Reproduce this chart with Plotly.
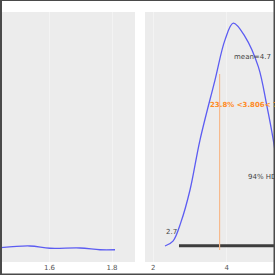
import plotly.graph_objects as go

# Left panel: nearly flat density trace
left_x = [1.44, 1.537, 1.6016, 1.6976, 1.7616, 1.8096]
left_y = [0.057, 0.064, 0.055, 0.056, 0.049, 0.049]

# Right panel: posterior density
right_x = [2.319, 2.537, 2.755, 3.0, 3.272, 3.681, 3.954, 4.180, 4.499, 4.861, 5.090, 5.270, 5.343]
right_y = [0.0, 0.022, 0.108, 0.251, 0.475, 0.744, 0.924, 0.999, 0.939, 0.804, 0.632, 0.475, 0.395]

mean_val = 4.7
ref_val = 3.806
hdi_low = 2.7
hdi_high = 7.2
ref_text = "23.8% <3.806< 76.2%"
left_ticks = [1.6, 1.8]
right_ticks = [2, 4]

BLUE = "#5c5cf2"
ORANGE = "#ff8a1f"
TXT = "#444444"
BG = "#ececec"
FONT = "DejaVu Sans"

fig = go.Figure()
fig.add_trace(go.Scatter(x=left_x, y=left_y, mode="lines", line=dict(color=BLUE, width=1.3, shape="spline"),
                         xaxis="x", yaxis="y", showlegend=False, hoverinfo="skip"))
fig.add_trace(go.Scatter(x=right_x, y=right_y, mode="lines",
                         line=dict(color=BLUE, width=1.3, shape="spline", smoothing=1.0),
                         xaxis="x2", yaxis="y2", showlegend=False, hoverinfo="skip"))
# HDI bar
fig.add_trace(go.Scatter(x=[hdi_low, hdi_high], y=[0.001, 0.001], mode="lines", line=dict(color="#3d3d3d", width=3),
                         xaxis="x2", yaxis="y2", showlegend=False, hoverinfo="skip"))
# reference line
fig.add_trace(go.Scatter(x=[ref_val, ref_val], y=[-0.018, 0.771], mode="lines",
                         line=dict(color="#f6b98c", width=1.2),
                         xaxis="x2", yaxis="y2", showlegend=False, hoverinfo="skip"))

ax_common = dict(showline=False, zeroline=False, ticks="", showgrid=True, gridcolor="#f3f3f3", gridwidth=1,
                 tickfont=dict(family=FONT, size=7, color="#555555"))
fig.update_layout(
    width=275, height=275,
    margin=dict(l=1, r=0, t=12, b=13),
    paper_bgcolor="white", plot_bgcolor=BG,
    xaxis=dict(domain=[0, 134/274], range=[1.4448, 1.8736], tickvals=left_ticks,
               ticktext=["1.6", "1.8"], anchor="y", **ax_common),
    yaxis=dict(domain=[0, 1], range=[0, 1], showticklabels=False, showgrid=False, zeroline=False, anchor="x"),
    xaxis2=dict(domain=[144/274, 1], range=[1.774, 5.316], tickvals=right_ticks,
                ticktext=["2", "4"], anchor="y2", **ax_common),
    yaxis2=dict(domain=[0, 1], range=[-0.0717, 1.049], showticklabels=False, showgrid=False, zeroline=False, anchor="x2"),
    font=dict(family=FONT),
)

fig.add_annotation(x=mean_val, y=0.846, xref="x2", yref="y2", text=f"mean={mean_val}", showarrow=False,
                   font=dict(family=FONT, size=7, color=TXT), xanchor="center", yanchor="middle")
fig.add_annotation(x=3.50, y=0.632, xref="x2", yref="y2", text=f"<b>{ref_text}</b>", showarrow=False,
                   font=dict(family=FONT, size=7, color=ORANGE), xanchor="left", yanchor="middle")
fig.add_annotation(x=4.526, y=0.311, xref="x2", yref="y2", text="94% HDI", showarrow=False,
                   font=dict(family=FONT, size=7, color=TXT), xanchor="left", yanchor="middle")
fig.add_annotation(x=hdi_low, y=0.063, xref="x2", yref="y2", text=f"{hdi_low}", showarrow=False,
                   font=dict(family=FONT, size=7, color=TXT), xanchor="right", yanchor="middle")

# outer frame
fig.add_shape(type="rect", xref="paper", yref="paper", x0=0, x1=273.5/274, y0=-12.5/250, y1=262/250,
              line=dict(color="#4a4a4a", width=2), fillcolor="rgba(0,0,0,0)", layer="above")

fig.write_html("out.html")
